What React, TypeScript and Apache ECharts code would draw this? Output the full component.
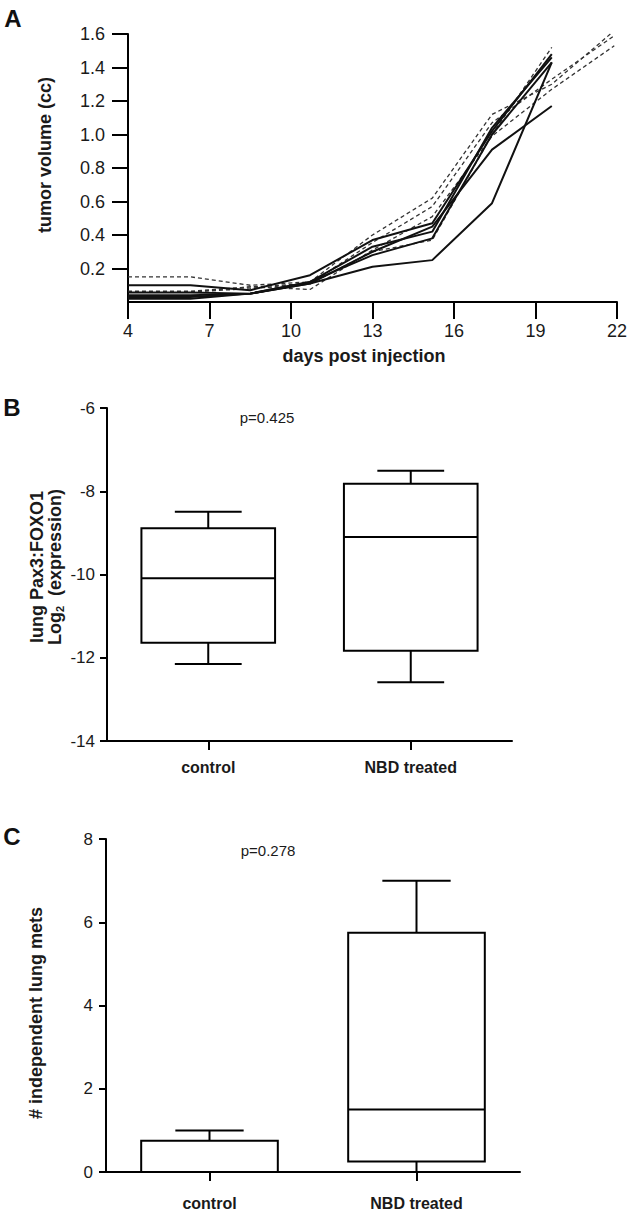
import React, { useEffect, useRef } from 'react';
import * as echarts from 'echarts';

// ---------- data ----------
const days = [4, 6.3, 8.5, 10.7, 13, 15.2, 17.4, 19.6, 21.9];
const solidA = [0.1, 0.1, 0.07, 0.16, 0.37, 0.47, 1.02, 1.48];
const solidB = [0.057, 0.057, 0.05, 0.12, 0.28, 0.38, 1.0, 1.43];
const solidC = [0.04, 0.04, 0.05, 0.11, 0.21, 0.25, 0.59, 1.43];
const solidD = [0.02, 0.02, 0.05, 0.11, 0.3, 0.45, 0.91, 1.17];
const solidE = [0.03, 0.03, 0.05, 0.12, 0.33, 0.42, 1.04, 1.46];
const dashedA = [0.15, 0.15, 0.1, 0.12, 0.4, 0.62, 1.12, 1.3, 1.62];
const dashedB = [0.065, 0.065, 0.09, 0.11, 0.355, 0.57, 1.07, 1.33, 1.59];
const dashedC = [0.06, 0.06, 0.09, 0.075, 0.31, 0.51, 0.99, 1.27, 1.53];
const dashedD = [0.06, 0.06, 0.08, 0.11, 0.3, 0.37, 1.0, 1.52];
const volumeTicks = [0.2, 0.4, 0.6, 0.8, 1.0, 1.2, 1.4, 1.6];
const dayTicks = [4, 7, 10, 13, 16, 19, 22];

const groups = ['control', 'NBD treated'];
// [min, q1, median, q3, max]
const pax3Control = [-12.15, -11.64, -10.09, -8.89, -8.49];
const pax3Treated = [-12.59, -11.83, -9.1, -7.82, -7.51];
const metsControl = [0, 0, 0, 0.75, 1];
const metsTreated = [0, 0.25, 1.5, 5.75, 7];

const FONT = "'Liberation Sans', Arial, Helvetica, sans-serif";
const INK = '#1a1a1a';

function toPairs(vals: number[]) {
  return vals.map((v, i) => [days[i], v]);
}

function boxRender(params: any, api: any) {
  const x = api.value(0);
  const mn = api.value(1), q1 = api.value(2), md = api.value(3), q3 = api.value(4), mx = api.value(5);
  const band = api.size([1, 0])[0];
  const bw = band * 0.66;
  const cw = band * 0.33;
  const pMin = api.coord([x, mn]);
  const pQ1 = api.coord([x, q1]);
  const pMd = api.coord([x, md]);
  const pQ3 = api.coord([x, q3]);
  const pMax = api.coord([x, mx]);
  const cx = pMd[0];
  const st = { stroke: '#000', lineWidth: 2, fill: null };
  const line = (x1: number, y1: number, x2: number, y2: number) => ({
    type: 'line', shape: { x1, y1, x2, y2 }, style: st,
  });
  return {
    type: 'group',
    children: [
      line(cx, pQ3[1], cx, pMax[1]),
      line(cx - cw / 2, pMax[1], cx + cw / 2, pMax[1]),
      line(cx, pQ1[1], cx, pMin[1]),
      line(cx - cw / 2, pMin[1], cx + cw / 2, pMin[1]),
      { type: 'rect', shape: { x: cx - bw / 2, y: pQ3[1], width: bw, height: pQ1[1] - pQ3[1] }, style: { stroke: '#000', lineWidth: 2, fill: '#fff' } },
      line(cx - bw / 2, pMd[1], cx + bw / 2, pMd[1]),
    ],
  };
}

export default function App() {
  const ref = useRef<HTMLDivElement>(null);
  useEffect(() => {
    if (!ref.current) return;
    const chart = echarts.init(ref.current, undefined, { renderer: 'svg' });
    const axisLine = { show: true, onZero: false, lineStyle: { color: '#000', width: 2 } };
    const solidStyle = { color: '#111', width: 2 };
    const dashStyle = { color: '#333', width: 1.3, type: [4, 3] as any };
    const lineSeries = (data: number[], dashed: boolean) => ({
      type: 'line',
      xAxisIndex: 0,
      yAxisIndex: 0,
      data: toPairs(data),
      symbol: 'none',
      lineStyle: dashed ? dashStyle : solidStyle,
      z: dashed ? 3 : 4,
    });
    const option: any = {
      animation: false,
      textStyle: { fontFamily: FONT },
      grid: [
        { left: 128, top: 34, width: 489, height: 268 },
        { left: 107, top: 408, width: 405, height: 333 },
        { left: 106, top: 839, width: 414, height: 333 },
      ],
      xAxis: [
        {
          gridIndex: 0, type: 'value', min: 4, max: 22,
          axisLine, splitLine: { show: false },
          axisTick: { show: true, length: 17, lineStyle: { color: '#000', width: 2 }, customValues: dayTicks },
          axisLabel: { color: INK, fontSize: 18, margin: 20, fontFamily: FONT, customValues: dayTicks },
        },
        {
          gridIndex: 1, type: 'category', data: groups,
          axisLine, splitLine: { show: false },
          axisTick: { show: true, length: 9, alignWithLabel: true, lineStyle: { color: '#000', width: 2 } },
          axisLabel: { color: INK, fontSize: 16, fontWeight: 'bold', margin: 18, fontFamily: FONT },
        },
        {
          gridIndex: 2, type: 'category', data: groups,
          axisLine, splitLine: { show: false },
          axisTick: { show: true, length: 9, alignWithLabel: true, lineStyle: { color: '#000', width: 2 } },
          axisLabel: { color: INK, fontSize: 16, fontWeight: 'bold', margin: 23, fontFamily: FONT },
        },
      ],
      yAxis: [
        {
          gridIndex: 0, type: 'value', min: 0, max: 1.6, interval: 0.2,
          axisLine, splitLine: { show: false },
          axisTick: { show: true, length: 16, lineStyle: { color: '#000', width: 2 }, customValues: volumeTicks },
          axisLabel: {
            color: INK, fontSize: 18, margin: 23, fontFamily: FONT, customValues: volumeTicks,
            formatter: (v: number) => (v === 0 ? '' : v.toFixed(1)),
          },
        },
        {
          gridIndex: 1, type: 'value', min: -14, max: -6, interval: 2,
          axisLine, splitLine: { show: false },
          axisTick: { show: true, length: 7, lineStyle: { color: '#000', width: 2 } },
          axisLabel: { color: INK, fontSize: 17, margin: 12, fontFamily: FONT },
        },
        {
          gridIndex: 2, type: 'value', min: 0, max: 8, interval: 2,
          axisLine, splitLine: { show: false },
          axisTick: { show: true, length: 7, lineStyle: { color: '#000', width: 2 } },
          axisLabel: { color: INK, fontSize: 17, margin: 13, fontFamily: FONT },
        },
      ],
      series: [
        lineSeries(dashedA, true),
        lineSeries(dashedB, true),
        lineSeries(dashedC, true),
        lineSeries(dashedD, true),
        lineSeries(solidA, false),
        lineSeries(solidB, false),
        lineSeries(solidC, false),
        lineSeries(solidD, false),
        lineSeries(solidE, false),
        {
          type: 'custom', xAxisIndex: 1, yAxisIndex: 1,
          renderItem: boxRender,
          encode: { x: 0, y: [1, 2, 3, 4, 5] },
          data: [[0, ...pax3Control], [1, ...pax3Treated]],
        },
        {
          type: 'custom', xAxisIndex: 2, yAxisIndex: 2,
          renderItem: boxRender,
          encode: { x: 0, y: [1, 2, 3, 4, 5] },
          data: [[0, ...metsControl], [1, ...metsTreated]],
        },
      ],
      graphic: [
        { type: 'text', x: 13, y: 18, style: { text: 'A', fontSize: 24, fontWeight: 'bold', fontFamily: FONT, fill: '#111', align: 'center', verticalAlign: 'middle' } },
        { type: 'text', x: 12, y: 407, style: { text: 'B', fontSize: 24, fontWeight: 'bold', fontFamily: FONT, fill: '#111', align: 'center', verticalAlign: 'middle' } },
        { type: 'text', x: 12, y: 836, style: { text: 'C', fontSize: 24, fontWeight: 'bold', fontFamily: FONT, fill: '#111', align: 'center', verticalAlign: 'middle' } },
        { type: 'text', x: 364, y: 356, style: { text: 'days post injection', fontSize: 18, fontWeight: 'bold', fontFamily: FONT, fill: INK, align: 'center', verticalAlign: 'middle' } },
        { type: 'text', x: 45, y: 155, rotation: Math.PI / 2, style: { text: 'tumor volume (cc)', fontSize: 18, fontWeight: 'bold', fontFamily: FONT, fill: INK, align: 'center', verticalAlign: 'middle' } },
        { type: 'text', x: 37, y: 567, rotation: Math.PI / 2, style: { text: 'lung Pax3:FOXO1', fontSize: 18, fontWeight: 'bold', fontFamily: FONT, fill: INK, align: 'center', verticalAlign: 'middle' } },
        {
          type: 'text', x: 55, y: 567, rotation: Math.PI / 2,
          style: {
            text: 'Log{sub|2}  (expression)', fontSize: 18, fontWeight: 'bold', fontFamily: FONT, fill: INK, align: 'center', verticalAlign: 'middle',
            rich: { sub: { fontSize: 11, fontWeight: 'bold', fontFamily: FONT, fill: INK, verticalAlign: 'bottom', lineHeight: 21 } },
          },
        },
        { type: 'text', x: 36, y: 1013, rotation: Math.PI / 2, style: { text: '# independent lung mets', fontSize: 18, fontWeight: 'bold', fontFamily: FONT, fill: INK, align: 'center', verticalAlign: 'middle' } },
        { type: 'text', x: 267, y: 417, style: { text: 'p=0.425', fontSize: 15, fontFamily: FONT, fill: INK, align: 'center', verticalAlign: 'middle' } },
        { type: 'text', x: 268, y: 850, style: { text: 'p=0.278', fontSize: 15, fontFamily: FONT, fill: INK, align: 'center', verticalAlign: 'middle' } },
      ],
    };
    chart.setOption(option);
    return () => chart.dispose();
  }, []);
  return <div ref={ref} style={{ position: 'fixed', left: 0, top: 0, width: 630, height: 1215, background: '#fff' }} />;
}
